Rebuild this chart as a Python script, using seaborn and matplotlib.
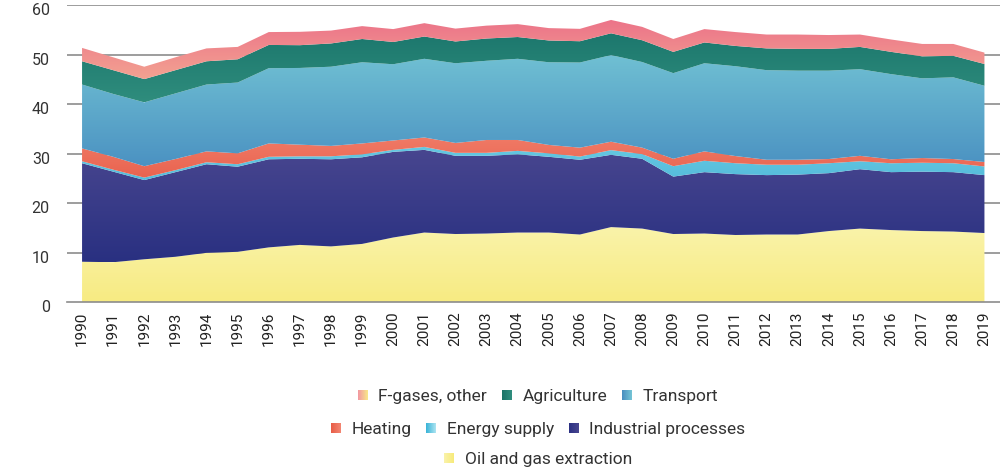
import numpy as np
import pandas as pd
import seaborn as sns
import matplotlib.pyplot as plt
from matplotlib.colors import LinearSegmentedColormap
from matplotlib.patches import Patch, Rectangle
from matplotlib.legend_handler import HandlerBase
from matplotlib.transforms import ScaledTranslation

# Data (Mt CO2-eq)
years = list(range(1990, 2020))
oil_gas = [8.2, 8.1, 8.7, 9.2, 10.0, 10.2, 11.1, 11.6, 11.3, 11.8, 13.1, 14.1, 13.8, 13.9, 14.1,
           14.1, 13.7, 15.2, 14.9, 13.8, 13.9, 13.6, 13.7, 13.7, 14.4, 14.9, 14.6, 14.4, 14.3, 14.0]
industrial = [19.9, 18.3, 16.0, 17.1, 17.9, 17.2, 17.8, 17.4, 17.6, 17.5, 17.3, 16.7, 15.8, 15.7, 15.8,
              15.3, 15.1, 14.6, 14.1, 11.6, 12.4, 12.3, 12.0, 12.1, 11.7, 12.0, 11.7, 12.0, 12.0, 11.7]
energy = [0.4, 0.4, 0.5, 0.4, 0.4, 0.5, 0.5, 0.5, 0.6, 0.6, 0.4, 0.6, 0.6, 0.6, 0.7,
          0.7, 0.65, 0.95, 0.95, 2.1, 2.3, 2.2, 2.1, 2.0, 2.0, 1.6, 1.8, 1.8, 1.8, 1.75]
heating = [2.6, 2.6, 2.3, 2.25, 2.2, 2.2, 2.7, 2.35, 2.1, 2.2, 1.9, 1.9, 2.0, 2.6, 2.2,
           1.7, 1.8, 1.7, 1.3, 1.5, 1.9, 1.45, 1.0, 1.0, 0.85, 1.1, 0.8, 0.95, 0.85, 0.9]
transport = [12.9, 12.7, 12.9, 13.25, 13.5, 14.3, 15.2, 15.5, 16.0, 16.4, 15.4, 15.9, 16.1, 16.0, 16.4,
             16.7, 17.2, 17.5, 17.3, 17.3, 17.8, 18.15, 18.1, 18.0, 17.85, 17.5, 17.2, 16.1, 16.5, 15.4]
agriculture = [4.7, 4.8, 4.7, 4.7, 4.7, 4.7, 4.7, 4.6, 4.7, 4.7, 4.5, 4.5, 4.4, 4.5, 4.4,
               4.4, 4.3, 4.4, 4.4, 4.3, 4.2, 4.1, 4.4, 4.4, 4.4, 4.5, 4.5, 4.45, 4.35, 4.4]
fgases = [2.7, 2.6, 2.5, 2.6, 2.6, 2.5, 2.6, 2.7, 2.6, 2.6, 2.6, 2.7, 2.6, 2.6, 2.6,
          2.5, 2.5, 2.7, 2.7, 2.6, 2.7, 2.8, 2.8, 2.9, 2.8, 2.5, 2.5, 2.5, 2.4, 2.3]

labels = ["Oil and gas extraction", "Industrial processes", "Energy supply", "Heating",
          "Transport", "Agriculture", "F-gases, other"]
# (bottom colour, top colour) of each vertical gradient
grads = [("#f7eb82", "#faf3aa"),
         ("#293081", "#48468f"),
         ("#55bcdb", "#66c8e2"),
         ("#e9634f", "#f07a66"),
         ("#4b92c2", "#70c0d3"),
         ("#2f8d7d", "#1c776d"),
         ("#f3a291", "#ec7389")]
# legend swatch gradients (left -> right)
legend_grads = [("#f9f2a8", "#f7ea7c"), ("#2c3183", "#47458f"), ("#3db5d8", "#a8e2f0"),
                ("#e85e48", "#f28470"), ("#4a8fc0", "#72c2d4"), ("#1c7468", "#2f8d7d"),
                ("#f29aa0", "#f8e48a")]

df = pd.DataFrame(dict(zip(labels, [oil_gas, industrial, energy, heating,
                                    transport, agriculture, fgases])), index=years)

sns.set_theme(style="white")
plt.rcParams['font.family'] = ['Roboto', 'DejaVu Sans']

fig = plt.figure(figsize=(10, 4.68), dpi=100)
ax = fig.add_axes([0.0665, 0.354, 0.9335, 0.6346])

# gridlines behind the areas
for v in range(10, 70, 10):
    ax.axhline(v, color="#8c8c8c", lw=1.2, zorder=0)

colls = ax.stackplot(df.index, df.T.values, colors=[g[0] for g in grads], lw=0, zorder=1)

# gradient fill clipped to each area
grad = np.linspace(0, 1, 256).reshape(-1, 1)
for coll, (c0, c1) in zip(colls, grads):
    path = coll.get_paths()[0]
    ext = path.get_extents()
    cmap = LinearSegmentedColormap.from_list("g", [c0, c1])
    im = ax.imshow(grad, cmap=cmap, origin="lower", aspect="auto",
                   extent=[ext.x0, ext.x1, ext.y0, ext.y1], zorder=1.5,
                   interpolation="bilinear")
    im.set_clip_path(path, transform=ax.transData)
    coll.set_facecolor("none")

ax.set_xlim(1989.5, 2019.5)
ax.set_ylim(0, 60)

for s in ["top", "right", "left"]:
    ax.spines[s].set_visible(False)
ax.spines["bottom"].set_color("#8c8c8c")
ax.spines["bottom"].set_linewidth(1.2)

ax.set_yticks(range(0, 70, 10))
ax.set_xticks(years)
ax.set_xticklabels([str(y) for y in years], rotation=90, fontsize=11, color="#222222")
ax.set_xticks(np.arange(1990.5, 2019, 1), minor=True)
ax.tick_params(axis="x", which="major", length=0, pad=6.5)
ax.tick_params(axis="x", which="minor", direction="in", length=5, width=1, color="#9a9a8a")
ax.tick_params(axis="y", length=0, pad=12, labelsize=11.5, labelcolor="#333333")
for lab in ax.get_yticklabels():
    lab.set_transform(lab.get_transform() + ScaledTranslation(0, -0.04, fig.dpi_scale_trans))


class GradientHandler(HandlerBase):
    def create_artists(self, legend, orig_handle, xdescent, ydescent, width, height,
                       fontsize, trans):
        c0, c1 = orig_handle.grad
        cmap = LinearSegmentedColormap.from_list("g", [c0, c1])
        n = 10
        w = width / n
        side = min(height * 1.05, width)
        y0 = -ydescent + (height - side) / 2
        arts = []
        for i in range(n):
            r = Rectangle((-xdescent + i * w, y0), w * 1.02, side,
                          facecolor=cmap(i / (n - 1)), edgecolor="none", transform=trans)
            arts.append(r)
        return arts


handles = {}
for lab, g in zip(labels, legend_grads):
    p = Patch(label=lab)
    p.grad = g
    handles[lab] = p

rows = [(["F-gases, other", "Agriculture", "Transport"], 0.152),
        (["Heating", "Energy supply", "Industrial processes"], 0.0823),
        (["Oil and gas extraction"], 0.0182)]
for names, yy in rows:
    leg = fig.legend([handles[n] for n in names], names, loc="center",
                     bbox_to_anchor=(0.538, yy), ncol=len(names), frameon=False,
                     fontsize=12.5, handlelength=0.58, handleheight=0.55,
                     handletextpad=0.6, columnspacing=0.85,
                     handler_map={Patch: GradientHandler()})
    for t in leg.get_texts():
        t.set_color("#333333")

fig.savefig("out.png", dpi=100)
